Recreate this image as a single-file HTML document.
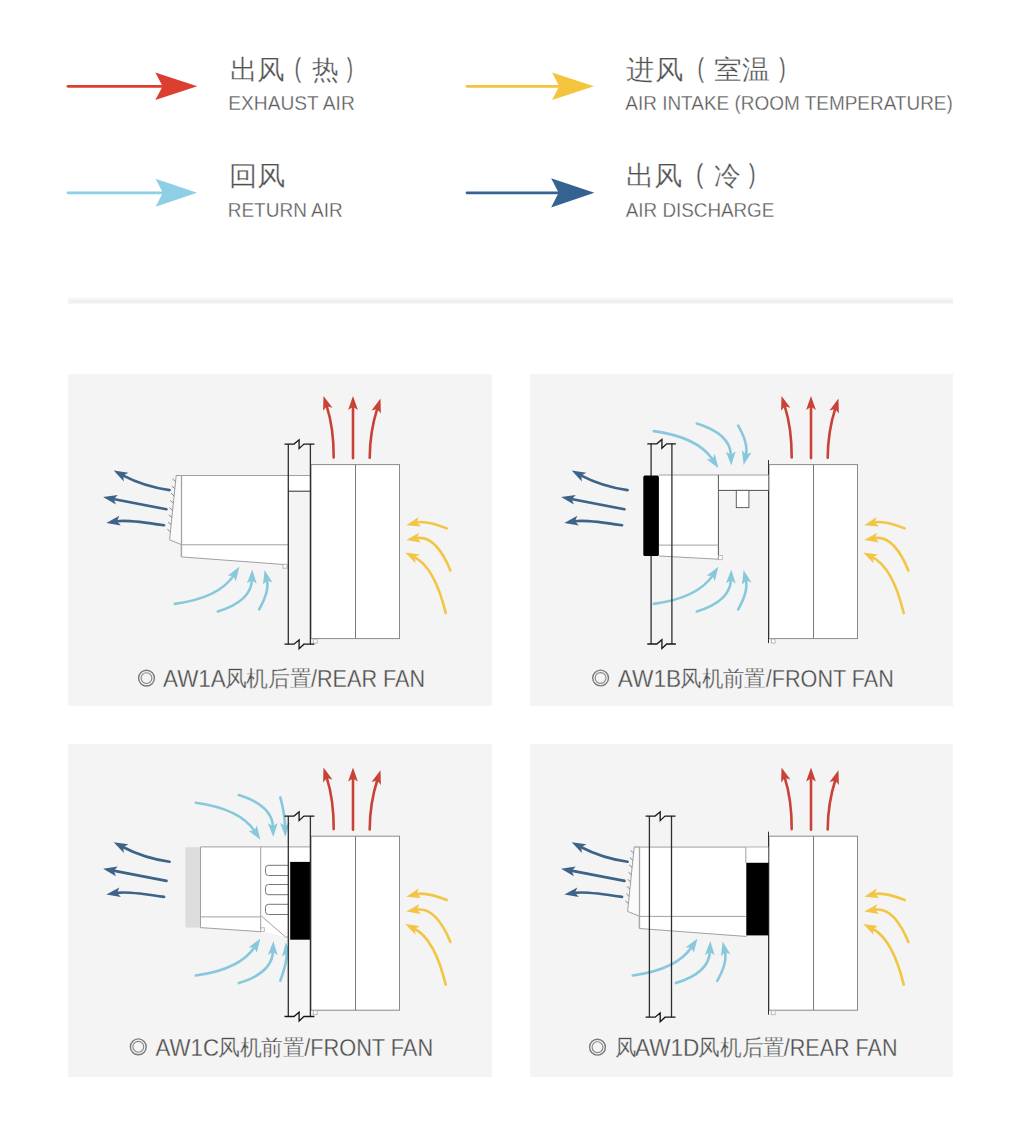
<!DOCTYPE html>
<html><head><meta charset="utf-8"><style>
html,body{margin:0;padding:0;background:#fff;width:1023px;height:1143px;overflow:hidden}
svg{display:block}
text{font-family:"Liberation Sans",sans-serif}
</style></head><body>
<svg width="1023" height="1143" viewBox="0 0 1023 1143">
<line x1="68" y1="86.3" x2="163.6" y2="86.3" stroke="#dc3e2f" stroke-width="2.8" stroke-linecap="round"/>
<path d="M197.3 86.3L155.3 72.6L162.6 86.3L155.3 100Z" fill="#dc3e2f"/>
<line x1="68" y1="192.8" x2="163.81" y2="192.8" stroke="#8dd0e6" stroke-width="2.8" stroke-linecap="round"/>
<path d="M197.1 192.8L155.6 178.85L162.81 192.8L155.6 206.75Z" fill="#8dd0e6"/>
<line x1="467" y1="86.3" x2="560.3" y2="86.3" stroke="#f4c43c" stroke-width="2.8" stroke-linecap="round"/>
<path d="M594 86.3L552 72.6L559.3 86.3L552 100Z" fill="#f4c43c"/>
<line x1="467" y1="192.8" x2="559.63" y2="192.8" stroke="#356391" stroke-width="2.8" stroke-linecap="round"/>
<path d="M594.4 192.8L551.1 178.2L558.63 192.8L551.1 207.4Z" fill="#356391"/>
<rect x="68" y="297.5" width="885" height="2" fill="#f8f8f8" stroke="none" stroke-width="1.0" />
<rect x="68" y="299.5" width="885" height="4" fill="#f0f0f0" stroke="none" stroke-width="1.0" />
<rect x="68" y="374" width="424" height="332" fill="#f4f4f4" stroke="none" stroke-width="1.0" />
<rect x="530" y="374" width="423" height="332" fill="#f4f4f4" stroke="none" stroke-width="1.0" />
<rect x="68" y="744" width="424" height="333" fill="#f4f4f4" stroke="none" stroke-width="1.0" />
<rect x="530" y="744" width="423" height="333" fill="#f4f4f4" stroke="none" stroke-width="1.0" />
<path d="M174.8 603.9Q218.9 597.85 233.72 575.4" fill="none" stroke="#88c8dc" stroke-width="2.6" stroke-linecap="round"/>
<path d="M239.4 566.8L235.78 581.18L233.45 575.81L227.6 575.78Z" fill="#88c8dc"/>
<path d="M217.8 611.5Q251.15 601.3 251.93 579.79" fill="none" stroke="#88c8dc" stroke-width="2.6" stroke-linecap="round"/>
<path d="M252.3 569.5L256.69 583.67L251.91 580.29L246.9 583.31Z" fill="#88c8dc"/>
<path d="M259.2 609.3Q269.5 591.35 266.9 580.04" fill="none" stroke="#88c8dc" stroke-width="2.6" stroke-linecap="round"/>
<path d="M264.6 570L272.51 582.55L267.02 580.53L262.96 584.74Z" fill="#88c8dc"/>
<rect x="311" y="464.6" width="88.5" height="174" fill="#fff" stroke="#8a8a8a" stroke-width="1.0" />
<line x1="355.5" y1="464.6" x2="355.5" y2="638.6" stroke="#7a7a7a" stroke-width="1.0"/>
<rect x="313.3" y="639.1" width="3.8" height="4" fill="#fff" stroke="#aaa" stroke-width="0.8" />
<path d="M333.7 457.5Q333.8 428.05 326.65 405.81" fill="none" stroke="#c94237" stroke-width="2.6" stroke-linecap="round"/>
<path d="M323.5 396L332.45 407.83L326.8 406.28L323.12 410.83Z" fill="#c94237"/>
<path d="M353 458.1Q353 427.05 353 406.3" fill="none" stroke="#c94237" stroke-width="2.6" stroke-linecap="round"/>
<path d="M353 396L357.9 410L353 406.8L348.1 410Z" fill="#c94237"/>
<path d="M369.7 457.8Q369.9 431.4 377.33 408.4" fill="none" stroke="#c94237" stroke-width="2.6" stroke-linecap="round"/>
<path d="M380.5 398.6L380.86 413.43L377.18 408.88L371.53 410.41Z" fill="#c94237"/>
<path d="M446.7 528.4Q425.5 520.2 416.27 522.6" fill="none" stroke="#f2c545" stroke-width="2.6" stroke-linecap="round"/>
<path d="M406.3 525.2L418.61 516.93L416.75 522.48L421.08 526.41Z" fill="#f2c545"/>
<path d="M450.4 570.4Q435.65 534.8 416.44 538.2" fill="none" stroke="#f2c545" stroke-width="2.6" stroke-linecap="round"/>
<path d="M406.3 540L419.23 532.73L416.93 538.12L420.94 542.38Z" fill="#f2c545"/>
<path d="M445.7 613Q434.55 567.25 414.4 557.13" fill="none" stroke="#f2c545" stroke-width="2.6" stroke-linecap="round"/>
<path d="M405.2 552.5L419.91 554.41L414.85 557.35L415.51 563.16Z" fill="#f2c545"/>
<path d="M181.4 475.5L288 475.5L288 565L181.4 556.9Z" fill="#fff" stroke="none" stroke-width="1.0" />
<line x1="176.2" y1="475.5" x2="288" y2="475.5" stroke="#a0a0a0" stroke-width="1.0"/>
<line x1="181.4" y1="475.5" x2="181.4" y2="556.9" stroke="#a8a8a8" stroke-width="1.5"/>
<line x1="181.4" y1="544.8" x2="288" y2="544.8" stroke="#a0a0a0" stroke-width="1.0"/>
<line x1="181.4" y1="556.9" x2="285" y2="564.6" stroke="#a0a0a0" stroke-width="1.0"/>
<path d="M176.2 475.5L181.4 475.5L181.4 544.6L169.6 539.8Z" fill="#fafafa" stroke="#a0a0a0" stroke-width="1.0" />
<line x1="175.58" y1="481.5" x2="172.58" y2="478.9" stroke="#7a7a7a" stroke-width="0.9"/>
<line x1="174.85" y1="488.7" x2="171.85" y2="486.1" stroke="#7a7a7a" stroke-width="0.9"/>
<line x1="174.11" y1="495.9" x2="171.11" y2="493.3" stroke="#7a7a7a" stroke-width="0.9"/>
<line x1="173.37" y1="503.1" x2="170.37" y2="500.5" stroke="#7a7a7a" stroke-width="0.9"/>
<line x1="172.63" y1="510.3" x2="169.63" y2="507.7" stroke="#7a7a7a" stroke-width="0.9"/>
<line x1="171.89" y1="517.5" x2="168.89" y2="514.9" stroke="#7a7a7a" stroke-width="0.9"/>
<line x1="171.15" y1="524.7" x2="168.15" y2="522.1" stroke="#7a7a7a" stroke-width="0.9"/>
<line x1="170.41" y1="531.9" x2="167.41" y2="529.3" stroke="#7a7a7a" stroke-width="0.9"/>
<rect x="283" y="564.2" width="4" height="4" fill="#fff" stroke="#aaa" stroke-width="0.8" />
<rect x="288.3" y="475.5" width="22.1" height="15.7" fill="#fff" stroke="none" stroke-width="1.0" />
<line x1="288.3" y1="475.5" x2="310.4" y2="475.5" stroke="#a0a0a0" stroke-width="1.0"/>
<line x1="288.3" y1="491.2" x2="310.4" y2="491.2" stroke="#2e2e2e" stroke-width="1.0"/>
<line x1="288.3" y1="444.1" x2="288.3" y2="644.2" stroke="#2e2e2e" stroke-width="1.3"/>
<line x1="310.4" y1="444.1" x2="310.4" y2="644.2" stroke="#2e2e2e" stroke-width="1.3"/>
<path d="M284.5 444.1L294 444.1L299.1 439.8L299.1 448.6L303.9 444.1L314.4 444.1" fill="none" stroke="#151515" stroke-width="1.3" stroke-linejoin="miter"/>
<path d="M284.5 644.2L294 644.2L299.1 639.9L299.1 648.7L303.9 644.2L314.4 644.2" fill="none" stroke="#151515" stroke-width="1.3" stroke-linejoin="miter"/>
<path d="M169.6 490.1Q144.35 486.65 122.82 475.38" fill="none" stroke="#3d6389" stroke-width="2.6" stroke-linecap="round"/>
<path d="M113.7 470.6L128.38 472.75L123.27 475.61L123.83 481.44Z" fill="#3d6389"/>
<path d="M166.5 509.3Q134.8 503.2 113.21 499.05" fill="none" stroke="#3d6389" stroke-width="2.6" stroke-linecap="round"/>
<path d="M103.1 497.1L117.77 494.93L113.71 499.14L115.92 504.56Z" fill="#3d6389"/>
<path d="M164.1 525.3Q127.4 519.5 116.47 521.26" fill="none" stroke="#3d6389" stroke-width="2.6" stroke-linecap="round"/>
<path d="M106.3 522.9L119.34 515.84L116.96 521.18L120.9 525.51Z" fill="#3d6389"/>
<path d="M653.8 603.9Q697.9 597.85 712.72 575.4" fill="none" stroke="#88c8dc" stroke-width="2.6" stroke-linecap="round"/>
<path d="M718.4 566.8L714.78 581.18L712.45 575.81L706.6 575.78Z" fill="#88c8dc"/>
<path d="M696.8 611.5Q730.15 601.3 730.93 579.79" fill="none" stroke="#88c8dc" stroke-width="2.6" stroke-linecap="round"/>
<path d="M731.3 569.5L735.69 583.67L730.91 580.29L725.9 583.31Z" fill="#88c8dc"/>
<path d="M738.2 609.3Q748.5 591.35 745.9 580.04" fill="none" stroke="#88c8dc" stroke-width="2.6" stroke-linecap="round"/>
<path d="M743.6 570L751.51 582.55L746.02 580.53L741.96 584.74Z" fill="#88c8dc"/>
<path d="M653.8 431.1Q697.9 437.15 712.72 459.6" fill="none" stroke="#88c8dc" stroke-width="2.6" stroke-linecap="round"/>
<path d="M718.4 468.2L706.6 459.22L712.45 459.19L714.78 453.82Z" fill="#88c8dc"/>
<path d="M696.8 423.5Q730.15 433.7 730.93 455.21" fill="none" stroke="#88c8dc" stroke-width="2.6" stroke-linecap="round"/>
<path d="M731.3 465.5L725.9 451.69L730.91 454.71L735.69 451.33Z" fill="#88c8dc"/>
<path d="M738.2 425.7Q748.5 443.65 745.9 454.96" fill="none" stroke="#88c8dc" stroke-width="2.6" stroke-linecap="round"/>
<path d="M743.6 465L741.96 450.26L746.02 454.47L751.51 452.45Z" fill="#88c8dc"/>
<rect x="769" y="464.6" width="88.5" height="174" fill="#fff" stroke="#8a8a8a" stroke-width="1.0" />
<line x1="813.5" y1="464.6" x2="813.5" y2="638.6" stroke="#7a7a7a" stroke-width="1.0"/>
<rect x="771.3" y="639.1" width="3.8" height="4" fill="#fff" stroke="#aaa" stroke-width="0.8" />
<line x1="768.5" y1="460.1" x2="768.5" y2="643.1" stroke="#303030" stroke-width="1.0"/>
<path d="M791.7 457.5Q791.8 428.05 784.65 405.81" fill="none" stroke="#c94237" stroke-width="2.6" stroke-linecap="round"/>
<path d="M781.5 396L790.45 407.83L784.8 406.28L781.12 410.83Z" fill="#c94237"/>
<path d="M811 458.1Q811 427.05 811 406.3" fill="none" stroke="#c94237" stroke-width="2.6" stroke-linecap="round"/>
<path d="M811 396L815.9 410L811 406.8L806.1 410Z" fill="#c94237"/>
<path d="M827.7 457.8Q827.9 431.4 835.33 408.4" fill="none" stroke="#c94237" stroke-width="2.6" stroke-linecap="round"/>
<path d="M838.5 398.6L838.86 413.43L835.18 408.88L829.53 410.41Z" fill="#c94237"/>
<path d="M904.7 528.4Q883.5 520.2 874.27 522.6" fill="none" stroke="#f2c545" stroke-width="2.6" stroke-linecap="round"/>
<path d="M864.3 525.2L876.61 516.93L874.75 522.48L879.08 526.41Z" fill="#f2c545"/>
<path d="M908.4 570.4Q893.65 534.8 874.44 538.2" fill="none" stroke="#f2c545" stroke-width="2.6" stroke-linecap="round"/>
<path d="M864.3 540L877.23 532.73L874.93 538.12L878.94 542.38Z" fill="#f2c545"/>
<path d="M903.7 613Q892.55 567.25 872.4 557.13" fill="none" stroke="#f2c545" stroke-width="2.6" stroke-linecap="round"/>
<path d="M863.2 552.5L877.91 554.41L872.85 557.35L873.51 563.16Z" fill="#f2c545"/>
<path d="M627.6 490.1Q602.35 486.65 580.82 475.38" fill="none" stroke="#3d6389" stroke-width="2.6" stroke-linecap="round"/>
<path d="M571.7 470.6L586.38 472.75L581.27 475.61L581.83 481.44Z" fill="#3d6389"/>
<path d="M624.5 509.3Q592.8 503.2 571.21 499.05" fill="none" stroke="#3d6389" stroke-width="2.6" stroke-linecap="round"/>
<path d="M561.1 497.1L575.77 494.93L571.71 499.14L573.92 504.56Z" fill="#3d6389"/>
<path d="M622.1 525.3Q585.4 519.5 574.47 521.26" fill="none" stroke="#3d6389" stroke-width="2.6" stroke-linecap="round"/>
<path d="M564.3 522.9L577.34 515.84L574.96 521.18L578.9 525.51Z" fill="#3d6389"/>
<rect x="718.4" y="475" width="50" height="15.4" fill="#fff" stroke="none" stroke-width="1.0" />
<line x1="718.4" y1="475" x2="768.4" y2="475" stroke="#a0a0a0" stroke-width="1.0"/>
<line x1="718.4" y1="490.4" x2="768.4" y2="490.4" stroke="#505050" stroke-width="1.0"/>
<rect x="736.3" y="490.4" width="12.6" height="17.2" fill="#fff" stroke="#606060" stroke-width="1.0" />
<path d="M659 475L718.4 475L718.4 559.2L659 556Z" fill="#fff" stroke="none" stroke-width="1.0" />
<line x1="659" y1="475" x2="718.4" y2="475" stroke="#a0a0a0" stroke-width="1.0"/>
<line x1="718.4" y1="475" x2="718.4" y2="559.2" stroke="#555" stroke-width="1.0"/>
<line x1="659" y1="545.1" x2="718.4" y2="545.1" stroke="#a0a0a0" stroke-width="1.0"/>
<line x1="659" y1="556" x2="718.4" y2="559.2" stroke="#a0a0a0" stroke-width="1.0"/>
<rect x="718.6" y="555.5" width="3.6" height="4.2" fill="#fff" stroke="#aaa" stroke-width="0.8" />
<line x1="651.1" y1="443.8" x2="651.1" y2="644" stroke="#2e2e2e" stroke-width="1.3"/>
<line x1="671.9" y1="443.8" x2="671.9" y2="644" stroke="#2e2e2e" stroke-width="1.3"/>
<path d="M647.3 443.8L656.8 443.8L661.9 439.5L661.9 448.3L666.7 443.8L675.9 443.8" fill="none" stroke="#151515" stroke-width="1.3" stroke-linejoin="miter"/>
<path d="M647.3 644L656.8 644L661.9 639.7L661.9 648.5L666.7 644L675.9 644" fill="none" stroke="#151515" stroke-width="1.3" stroke-linejoin="miter"/>
<rect x="643.3" y="475.4" width="15.6" height="80.7" fill="#000" stroke="none" stroke-width="1.0" rx="1.5"/>
<path d="M195.8 802.7Q239.9 808.75 254.72 831.2" fill="none" stroke="#88c8dc" stroke-width="2.6" stroke-linecap="round"/>
<path d="M260.4 839.8L248.6 830.82L254.45 830.79L256.78 825.42Z" fill="#88c8dc"/>
<path d="M238.8 795.1Q272.15 805.3 272.93 826.81" fill="none" stroke="#88c8dc" stroke-width="2.6" stroke-linecap="round"/>
<path d="M273.3 837.1L267.9 823.29L272.91 826.31L277.69 822.93Z" fill="#88c8dc"/>
<path d="M280.3 797.4Q284.8 813.9 285.08 826.5" fill="none" stroke="#88c8dc" stroke-width="2.6" stroke-linecap="round"/>
<path d="M285.3 836.8L280.1 822.91L285.06 826L289.89 822.7Z" fill="#88c8dc"/>
<path d="M195.8 975.5Q239.9 969.45 254.72 947" fill="none" stroke="#88c8dc" stroke-width="2.6" stroke-linecap="round"/>
<path d="M260.4 938.4L256.78 952.78L254.45 947.41L248.6 947.38Z" fill="#88c8dc"/>
<path d="M238.8 983.1Q272.15 972.9 272.93 951.39" fill="none" stroke="#88c8dc" stroke-width="2.6" stroke-linecap="round"/>
<path d="M273.3 941.1L277.69 955.27L272.91 951.89L267.9 954.91Z" fill="#88c8dc"/>
<path d="M280.3 980.7Q287.35 961.5 286.63 952.57" fill="none" stroke="#88c8dc" stroke-width="2.6" stroke-linecap="round"/>
<path d="M285.8 942.3L291.81 955.86L286.67 953.06L282.04 956.65Z" fill="#88c8dc"/>
<rect x="311" y="836.2" width="88.5" height="174" fill="#fff" stroke="#8a8a8a" stroke-width="1.0" />
<line x1="355.5" y1="836.2" x2="355.5" y2="1010.2" stroke="#7a7a7a" stroke-width="1.0"/>
<rect x="313.3" y="1010.7" width="3.8" height="4" fill="#fff" stroke="#aaa" stroke-width="0.8" />
<path d="M333.7 829.1Q333.8 799.65 326.65 777.41" fill="none" stroke="#c94237" stroke-width="2.6" stroke-linecap="round"/>
<path d="M323.5 767.6L332.45 779.43L326.8 777.88L323.12 782.43Z" fill="#c94237"/>
<path d="M353 829.7Q353 798.65 353 777.9" fill="none" stroke="#c94237" stroke-width="2.6" stroke-linecap="round"/>
<path d="M353 767.6L357.9 781.6L353 778.4L348.1 781.6Z" fill="#c94237"/>
<path d="M369.7 829.4Q369.9 803 377.33 780" fill="none" stroke="#c94237" stroke-width="2.6" stroke-linecap="round"/>
<path d="M380.5 770.2L380.86 785.03L377.18 780.48L371.53 782.01Z" fill="#c94237"/>
<path d="M446.7 900Q425.5 891.8 416.27 894.2" fill="none" stroke="#f2c545" stroke-width="2.6" stroke-linecap="round"/>
<path d="M406.3 896.8L418.61 888.53L416.75 894.08L421.08 898.01Z" fill="#f2c545"/>
<path d="M450.4 942Q435.65 906.4 416.44 909.8" fill="none" stroke="#f2c545" stroke-width="2.6" stroke-linecap="round"/>
<path d="M406.3 911.6L419.23 904.33L416.93 909.72L420.94 913.98Z" fill="#f2c545"/>
<path d="M445.7 984.6Q434.55 938.85 414.4 928.73" fill="none" stroke="#f2c545" stroke-width="2.6" stroke-linecap="round"/>
<path d="M405.2 924.1L419.91 926.01L414.85 928.95L415.51 934.76Z" fill="#f2c545"/>
<path d="M169.6 861.7Q144.35 858.25 122.82 846.98" fill="none" stroke="#3d6389" stroke-width="2.6" stroke-linecap="round"/>
<path d="M113.7 842.2L128.38 844.35L123.27 847.21L123.83 853.04Z" fill="#3d6389"/>
<path d="M166.5 880.9Q134.8 874.8 113.21 870.65" fill="none" stroke="#3d6389" stroke-width="2.6" stroke-linecap="round"/>
<path d="M103.1 868.7L117.77 866.53L113.71 870.74L115.92 876.16Z" fill="#3d6389"/>
<path d="M164.1 896.9Q127.4 891.1 116.47 892.86" fill="none" stroke="#3d6389" stroke-width="2.6" stroke-linecap="round"/>
<path d="M106.3 894.5L119.34 887.44L116.96 892.78L120.9 897.11Z" fill="#3d6389"/>
<rect x="185.4" y="847.2" width="15" height="80.4" fill="#dcdcdc" stroke="none" stroke-width="1.0" />
<path d="M200.5 846.9L288.2 846.9L288.2 937L285.5 937L264 931.7L200.5 927.6Z" fill="#fff" stroke="none" stroke-width="1.0" />
<line x1="200.5" y1="846.9" x2="288.2" y2="846.9" stroke="#a0a0a0" stroke-width="1.0"/>
<line x1="200.5" y1="846.9" x2="200.5" y2="927.6" stroke="#a0a0a0" stroke-width="1.0"/>
<line x1="260.7" y1="846.9" x2="260.7" y2="931.7" stroke="#a0a0a0" stroke-width="1.0"/>
<line x1="200.5" y1="916.9" x2="260.7" y2="916.9" stroke="#a0a0a0" stroke-width="1.0"/>
<line x1="200.5" y1="927.6" x2="260.7" y2="931.7" stroke="#a0a0a0" stroke-width="1.0"/>
<rect x="260.9" y="927.8" width="3.4" height="3.8" fill="#fff" stroke="#aaa" stroke-width="0.8" />
<line x1="261.4" y1="916" x2="285.5" y2="937" stroke="#a0a0a0" stroke-width="1.0"/>
<line x1="285.5" y1="937" x2="288.2" y2="937" stroke="#a0a0a0" stroke-width="1.0"/>
<path d="M288.2 865.3L268.5 865.3Q265.5 865.3 265.5 868.3L265.5 872.5Q265.5 875.5 268.5 875.5L288.2 875.5" fill="#fff" stroke="#666" stroke-width="0.9"/>
<path d="M288.2 884.5L268.5 884.5Q265.5 884.5 265.5 887.5L265.5 891.7Q265.5 894.7 268.5 894.7L288.2 894.7" fill="#fff" stroke="#666" stroke-width="0.9"/>
<path d="M288.2 904.3L268.5 904.3Q265.5 904.3 265.5 907.3L265.5 911.5Q265.5 914.5 268.5 914.5L288.2 914.5" fill="#fff" stroke="#666" stroke-width="0.9"/>
<rect x="288.3" y="846.9" width="22.1" height="15" fill="#fff" stroke="none" stroke-width="1.0" />
<rect x="288.3" y="939.5" width="22.1" height="77" fill="#f6f6f6" stroke="none" stroke-width="1.0" />
<line x1="288.3" y1="846.9" x2="310.4" y2="846.9" stroke="#a0a0a0" stroke-width="1.0"/>
<rect x="290.2" y="861.9" width="20.1" height="77.8" fill="#000" stroke="none" stroke-width="1.0" />
<line x1="288.3" y1="816.1" x2="288.3" y2="1016.5" stroke="#2e2e2e" stroke-width="1.3"/>
<line x1="310.4" y1="816.1" x2="310.4" y2="1016.5" stroke="#2e2e2e" stroke-width="1.3"/>
<path d="M284.5 816.1L294 816.1L299.1 811.8L299.1 820.6L303.9 816.1L314.4 816.1" fill="none" stroke="#151515" stroke-width="1.3" stroke-linejoin="miter"/>
<path d="M284.5 1016.5L294 1016.5L299.1 1012.2L299.1 1021L303.9 1016.5L314.4 1016.5" fill="none" stroke="#151515" stroke-width="1.3" stroke-linejoin="miter"/>
<path d="M632.8 975.5Q676.9 969.45 691.72 947" fill="none" stroke="#88c8dc" stroke-width="2.6" stroke-linecap="round"/>
<path d="M697.4 938.4L693.78 952.78L691.45 947.41L685.6 947.38Z" fill="#88c8dc"/>
<path d="M675.8 983.1Q709.15 972.9 709.93 951.39" fill="none" stroke="#88c8dc" stroke-width="2.6" stroke-linecap="round"/>
<path d="M710.3 941.1L714.69 955.27L709.91 951.89L704.9 954.91Z" fill="#88c8dc"/>
<path d="M717.2 980.9Q727.5 962.95 724.9 951.64" fill="none" stroke="#88c8dc" stroke-width="2.6" stroke-linecap="round"/>
<path d="M722.6 941.6L730.51 954.15L725.02 952.13L720.96 956.34Z" fill="#88c8dc"/>
<rect x="769" y="836.2" width="88.5" height="174" fill="#fff" stroke="#8a8a8a" stroke-width="1.0" />
<line x1="813.5" y1="836.2" x2="813.5" y2="1010.2" stroke="#7a7a7a" stroke-width="1.0"/>
<rect x="771.3" y="1010.7" width="3.8" height="4" fill="#fff" stroke="#aaa" stroke-width="0.8" />
<line x1="768.5" y1="831.7" x2="768.5" y2="1014.7" stroke="#303030" stroke-width="1.0"/>
<path d="M791.7 829.1Q791.8 799.65 784.65 777.41" fill="none" stroke="#c94237" stroke-width="2.6" stroke-linecap="round"/>
<path d="M781.5 767.6L790.45 779.43L784.8 777.88L781.12 782.43Z" fill="#c94237"/>
<path d="M811 829.7Q811 798.65 811 777.9" fill="none" stroke="#c94237" stroke-width="2.6" stroke-linecap="round"/>
<path d="M811 767.6L815.9 781.6L811 778.4L806.1 781.6Z" fill="#c94237"/>
<path d="M827.7 829.4Q827.9 803 835.33 780" fill="none" stroke="#c94237" stroke-width="2.6" stroke-linecap="round"/>
<path d="M838.5 770.2L838.86 785.03L835.18 780.48L829.53 782.01Z" fill="#c94237"/>
<path d="M904.7 900Q883.5 891.8 874.27 894.2" fill="none" stroke="#f2c545" stroke-width="2.6" stroke-linecap="round"/>
<path d="M864.3 896.8L876.61 888.53L874.75 894.08L879.08 898.01Z" fill="#f2c545"/>
<path d="M908.4 942Q893.65 906.4 874.44 909.8" fill="none" stroke="#f2c545" stroke-width="2.6" stroke-linecap="round"/>
<path d="M864.3 911.6L877.23 904.33L874.93 909.72L878.94 913.98Z" fill="#f2c545"/>
<path d="M903.7 984.6Q892.55 938.85 872.4 928.73" fill="none" stroke="#f2c545" stroke-width="2.6" stroke-linecap="round"/>
<path d="M863.2 924.1L877.91 926.01L872.85 928.95L873.51 934.76Z" fill="#f2c545"/>
<path d="M627.6 861.7Q602.35 858.25 580.82 846.98" fill="none" stroke="#3d6389" stroke-width="2.6" stroke-linecap="round"/>
<path d="M571.7 842.2L586.38 844.35L581.27 847.21L581.83 853.04Z" fill="#3d6389"/>
<path d="M624.5 880.9Q592.8 874.8 571.21 870.65" fill="none" stroke="#3d6389" stroke-width="2.6" stroke-linecap="round"/>
<path d="M561.1 868.7L575.77 866.53L571.71 870.74L573.92 876.16Z" fill="#3d6389"/>
<path d="M622.1 896.9Q585.4 891.1 574.47 892.86" fill="none" stroke="#3d6389" stroke-width="2.6" stroke-linecap="round"/>
<path d="M564.3 894.5L577.34 887.44L574.96 892.78L578.9 897.11Z" fill="#3d6389"/>
<path d="M639.4 847.1L745.8 847.1L745.8 936.6L639.4 928.5Z" fill="#fff" stroke="none" stroke-width="1.0" />
<line x1="634.2" y1="847.1" x2="745.8" y2="847.1" stroke="#a0a0a0" stroke-width="1.0"/>
<line x1="639.4" y1="847.1" x2="639.4" y2="928.5" stroke="#a8a8a8" stroke-width="1.5"/>
<line x1="639.4" y1="916.4" x2="745.8" y2="916.4" stroke="#a0a0a0" stroke-width="1.0"/>
<line x1="639.4" y1="928.5" x2="746.3" y2="936.46" stroke="#a0a0a0" stroke-width="1.0"/>
<path d="M634.2 847.1L639.4 847.1L639.4 916.2L627.6 911.4Z" fill="#fafafa" stroke="#a0a0a0" stroke-width="1.0" />
<line x1="633.58" y1="853.1" x2="630.58" y2="850.5" stroke="#7a7a7a" stroke-width="0.9"/>
<line x1="632.85" y1="860.3" x2="629.85" y2="857.7" stroke="#7a7a7a" stroke-width="0.9"/>
<line x1="632.11" y1="867.5" x2="629.11" y2="864.9" stroke="#7a7a7a" stroke-width="0.9"/>
<line x1="631.37" y1="874.7" x2="628.37" y2="872.1" stroke="#7a7a7a" stroke-width="0.9"/>
<line x1="630.63" y1="881.9" x2="627.63" y2="879.3" stroke="#7a7a7a" stroke-width="0.9"/>
<line x1="629.89" y1="889.1" x2="626.89" y2="886.5" stroke="#7a7a7a" stroke-width="0.9"/>
<line x1="629.15" y1="896.3" x2="626.15" y2="893.7" stroke="#7a7a7a" stroke-width="0.9"/>
<line x1="628.41" y1="903.5" x2="625.41" y2="900.9" stroke="#7a7a7a" stroke-width="0.9"/>
<line x1="745.8" y1="847.1" x2="768.4" y2="847.1" stroke="#a0a0a0" stroke-width="1.0"/>
<rect x="746.3" y="847.6" width="22" height="15" fill="#fff" stroke="none" stroke-width="1.0" />
<line x1="745.8" y1="847.1" x2="745.8" y2="862.8" stroke="#a0a0a0" stroke-width="1.0"/>
<rect x="746.3" y="862.8" width="22.1" height="72.6" fill="#000" stroke="none" stroke-width="1.0" />
<line x1="649.4" y1="816.1" x2="649.4" y2="1017.2" stroke="#2e2e2e" stroke-width="1.3"/>
<line x1="671.5" y1="816.1" x2="671.5" y2="1017.2" stroke="#2e2e2e" stroke-width="1.3"/>
<path d="M645.6 816.1L655.1 816.1L660.2 811.8L660.2 820.6L665 816.1L675.5 816.1" fill="none" stroke="#151515" stroke-width="1.3" stroke-linejoin="miter"/>
<path d="M645.6 1017.2L655.1 1017.2L660.2 1012.9L660.2 1021.7L665 1017.2L675.5 1017.2" fill="none" stroke="#151515" stroke-width="1.3" stroke-linejoin="miter"/>
<text x="229.66" y="78.5" font-size="27" fill="#505050" stroke="#ffffff" stroke-width="0.3" textLength="55.16" lengthAdjust="spacingAndGlyphs">出风</text>
<text x="294.57" y="77.2" font-size="28" fill="#505050" stroke="#ffffff" stroke-width="0.3" textLength="6.66" lengthAdjust="spacingAndGlyphs">(</text>
<text x="311.6" y="78.5" font-size="27" fill="#505050" stroke="#ffffff" stroke-width="0.3" textLength="26.69" lengthAdjust="spacingAndGlyphs">热</text>
<text x="346.83" y="77.2" font-size="28" fill="#505050" stroke="#ffffff" stroke-width="0.3" textLength="6.26" lengthAdjust="spacingAndGlyphs">)</text>
<text x="228.17" y="109.8" font-size="21" fill="#5a5a5a" stroke="#ffffff" stroke-width="0.3" textLength="126.6" lengthAdjust="spacingAndGlyphs">EXHAUST AIR</text>
<text x="228.9" y="184.6" font-size="27" fill="#505050" stroke="#ffffff" stroke-width="0.3" textLength="56.65" lengthAdjust="spacingAndGlyphs">回风</text>
<text x="227.69" y="217" font-size="21" fill="#5a5a5a" stroke="#ffffff" stroke-width="0.3" textLength="115.08" lengthAdjust="spacingAndGlyphs">RETURN AIR</text>
<text x="626.1" y="78.5" font-size="27" fill="#505050" stroke="#ffffff" stroke-width="0.3" textLength="56.85" lengthAdjust="spacingAndGlyphs">进风</text>
<text x="697.6" y="77" font-size="28" fill="#505050" stroke="#ffffff" stroke-width="0.3" textLength="6.53" lengthAdjust="spacingAndGlyphs">(</text>
<text x="714.26" y="78.5" font-size="27" fill="#505050" stroke="#ffffff" stroke-width="0.3" textLength="55.97" lengthAdjust="spacingAndGlyphs">室温</text>
<text x="779.31" y="77" font-size="28" fill="#505050" stroke="#ffffff" stroke-width="0.3" textLength="6.4" lengthAdjust="spacingAndGlyphs">)</text>
<text x="625.3" y="109.8" font-size="21" fill="#5a5a5a" stroke="#ffffff" stroke-width="0.3" textLength="327.48" lengthAdjust="spacingAndGlyphs">AIR INTAKE (ROOM TEMPERATURE)</text>
<text x="625.9" y="184.7" font-size="27" fill="#505050" stroke="#ffffff" stroke-width="0.3" textLength="56.65" lengthAdjust="spacingAndGlyphs">出风</text>
<text x="695.93" y="182.8" font-size="28" fill="#505050" stroke="#ffffff" stroke-width="0.3" textLength="7.33" lengthAdjust="spacingAndGlyphs">(</text>
<text x="713.7" y="184.7" font-size="27" fill="#505050" stroke="#ffffff" stroke-width="0.3" textLength="26.89" lengthAdjust="spacingAndGlyphs">冷</text>
<text x="748.77" y="182.8" font-size="28" fill="#505050" stroke="#ffffff" stroke-width="0.3" textLength="6.8" lengthAdjust="spacingAndGlyphs">)</text>
<text x="625.8" y="217" font-size="21" fill="#5a5a5a" stroke="#ffffff" stroke-width="0.3" textLength="148.53" lengthAdjust="spacingAndGlyphs">AIR DISCHARGE</text>
<text x="163" y="687.4" font-size="23.5" fill="#4c4c4c" stroke="#f4f4f4" stroke-width="0.3" textLength="62.75" lengthAdjust="spacingAndGlyphs">AW1A</text>
<text x="224.51" y="686.2" font-size="22" fill="#4c4c4c" stroke="#f4f4f4" stroke-width="0.3" textLength="87.49" lengthAdjust="spacingAndGlyphs">风机后置</text>
<text x="311" y="687.4" font-size="23.5" fill="#4c4c4c" stroke="#f4f4f4" stroke-width="0.3" textLength="114.1" lengthAdjust="spacingAndGlyphs">/REAR FAN</text>
<text x="617.8" y="687.4" font-size="23.5" fill="#4c4c4c" stroke="#f4f4f4" stroke-width="0.3" textLength="63.31" lengthAdjust="spacingAndGlyphs">AW1B</text>
<text x="680.02" y="686.2" font-size="22" fill="#4c4c4c" stroke="#f4f4f4" stroke-width="0.3" textLength="85.95" lengthAdjust="spacingAndGlyphs">风机前置</text>
<text x="765.8" y="687.4" font-size="23.5" fill="#4c4c4c" stroke="#f4f4f4" stroke-width="0.3" textLength="128" lengthAdjust="spacingAndGlyphs">/FRONT FAN</text>
<text x="155.5" y="1055.8" font-size="23.5" fill="#4c4c4c" stroke="#f4f4f4" stroke-width="0.3" textLength="63.48" lengthAdjust="spacingAndGlyphs">AW1C</text>
<text x="217.81" y="1054.6" font-size="22" fill="#4c4c4c" stroke="#f4f4f4" stroke-width="0.3" textLength="87.39" lengthAdjust="spacingAndGlyphs">风机前置</text>
<text x="304.2" y="1055.8" font-size="23.5" fill="#4c4c4c" stroke="#f4f4f4" stroke-width="0.3" textLength="128.91" lengthAdjust="spacingAndGlyphs">/FRONT FAN</text>
<text x="614.52" y="1054.6" font-size="22" fill="#4c4c4c" stroke="#f4f4f4" stroke-width="0.3" textLength="21.45" lengthAdjust="spacingAndGlyphs">风</text>
<text x="635" y="1055.8" font-size="23.5" fill="#4c4c4c" stroke="#f4f4f4" stroke-width="0.3" textLength="64.39" lengthAdjust="spacingAndGlyphs">AW1D</text>
<text x="698.22" y="1054.6" font-size="22" fill="#4c4c4c" stroke="#f4f4f4" stroke-width="0.3" textLength="86.57" lengthAdjust="spacingAndGlyphs">风机后置</text>
<text x="783.8" y="1055.8" font-size="23.5" fill="#4c4c4c" stroke="#f4f4f4" stroke-width="0.3" textLength="113.69" lengthAdjust="spacingAndGlyphs">/REAR FAN</text>
<circle cx="146.5" cy="678.1" r="7.9" fill="none" stroke="#7a7a7a" stroke-width="1.4"/>
<circle cx="146.5" cy="678.1" r="5.4" fill="none" stroke="#858585" stroke-width="1.1"/>
<circle cx="600.6" cy="678" r="7.9" fill="none" stroke="#7a7a7a" stroke-width="1.4"/>
<circle cx="600.6" cy="678" r="5.4" fill="none" stroke="#858585" stroke-width="1.1"/>
<circle cx="138.3" cy="1046.8" r="7.9" fill="none" stroke="#7a7a7a" stroke-width="1.4"/>
<circle cx="138.3" cy="1046.8" r="5.4" fill="none" stroke="#858585" stroke-width="1.1"/>
<circle cx="597.5" cy="1047.2" r="7.9" fill="none" stroke="#7a7a7a" stroke-width="1.4"/>
<circle cx="597.5" cy="1047.2" r="5.4" fill="none" stroke="#858585" stroke-width="1.1"/>
</svg>
</body></html>
